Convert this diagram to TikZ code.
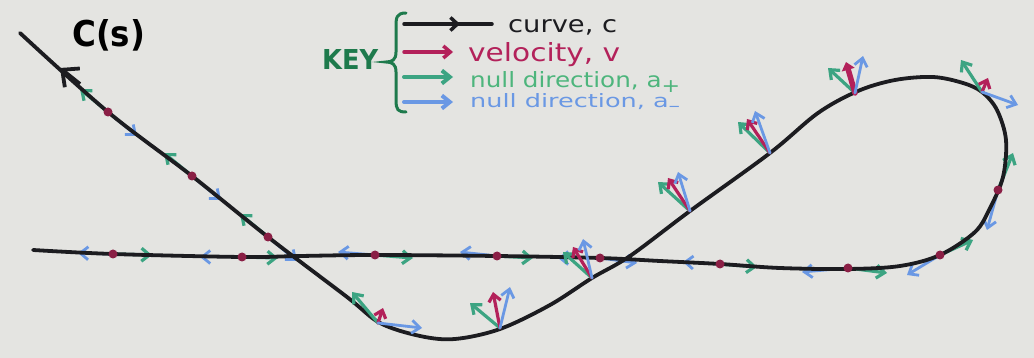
\documentclass[tikz,border=0pt]{standalone}
\usepackage{fontspec}
\setmainfont{DejaVu Sans}
\usetikzlibrary{arrows.meta,calc}
\definecolor{bg}{HTML}{E4E4E1}
\definecolor{ink}{HTML}{1C1C20}
\definecolor{velred}{HTML}{B3215A}
\definecolor{dotred}{HTML}{8A1F45}
\definecolor{plusgreen}{HTML}{3CA482}
\definecolor{plustext}{HTML}{4DB57C}
\definecolor{minusblue}{HTML}{6A98E4}
\definecolor{keygreen}{HTML}{1E7A4C}
\begin{document}
\begin{tikzpicture}[x=1pt,y=-1pt,
  curvestyle/.style={draw=ink,line width=3.8pt,line cap=round,line join=round},
  plusvec/.style={draw=plusgreen,line width=3.2pt,line cap=round,-{Straight Barb[length=8pt,width=13pt]}},
  minusvec/.style={draw=minusblue,line width=2.8pt,line cap=round,-{Straight Barb[length=8pt,width=13pt]}},
  velvec/.style={draw=velred,line width=3.2pt,line cap=round,-{Straight Barb[length=7pt,width=12pt]}},
  velthick/.style={draw=velred,line width=5.5pt,line cap=round,-{Triangle[length=8pt,width=13pt]}},
  reddot/.style={circle,fill=dotred,inner sep=0pt,minimum size=9pt},
  keytext/.style={anchor=base west,inner sep=0pt}
]
\useasboundingbox (0,0) rectangle (1034,358);
\fill[bg] (0,0) rectangle (1034,358);

% ---------- points on the curve ----------
\coordinate (a1) at (108,112);
\coordinate (a2) at (192,176);
\coordinate (a3) at (268,237);
\coordinate (h1) at (113,254);
\coordinate (h2) at (242,257);
\coordinate (h3) at (375,255);
\coordinate (h4) at (497,256);
\coordinate (h5) at (600,258);
\coordinate (h6) at (720,264);
\coordinate (h7) at (848,268);
\coordinate (r1) at (940,255);
\coordinate (r2) at (998,190);
\coordinate (p1) at (378,323);
\coordinate (p2) at (500,328);
\coordinate (p3) at (592,278);
\coordinate (p4) at (690,211);
\coordinate (p5) at (770,153);
\coordinate (p6) at (855,93);
\coordinate (p7) at (982,92);

% ---------- null directions along the lightlike parts ----------
\foreach \p in {a1,a2,a3}{
  \draw[plusvec] (\p) -- ($(\p)+(-28,-23)$);
  \draw[minusvec] (\p) -- ($(\p)+(29,24)$);
}
\draw[minusvec] (h1) -- (78,253);   \draw[plusvec] (h1) -- (152,255);
\draw[minusvec] (h2) -- (200,257);  \draw[plusvec] (h2) -- (278,258);
\draw[minusvec] (h3) -- (338,252);  \draw[plusvec] (h3) -- (413,258);
\draw[minusvec] (h4) -- (460,252);  \draw[plusvec] (h4) -- (533,258);
\draw[minusvec] (h5) -- (558,258);  \draw[minusvec] (h5) -- (637,263);
\draw[minusvec] (h6) -- (683,262);  \draw[plusvec] (h6) -- (757,267);
\draw[minusvec] (h7) -- (802,272);  \draw[plusvec] (h7) -- (887,273);
\draw[minusvec] (r1) -- (907,275);  \draw[plusvec] (r1) -- (973,240);
\draw[minusvec] (r2) -- (987,230);  \draw[plusvec] (r2) -- (1013,153);

% ---------- the curve ----------
\draw[curvestyle] plot[smooth,tension=0.55] coordinates {
  (20,33) (108,112) (192,176) (268,237) (347,297) (380,323) (420,336)
  (455,339) (500,329) (550,305) (592,278) (630,256) (690,211)
  (770,153) (818,113) (858,91) (895,80) (933,77) (963,83)
  (982,92) (997,110) (1006,140) (1003,177) (990,208) (975,232)
  (940,255) (900,266) (848,269) (780,268) (720,264) (660,261)
  (600,258) (497,256) (375,255) (300,256) (242,257) (113,254) (33,250)};
\coordinate (tipbase) at (80,84);
\coordinate (tip) at (60,68);
\draw[draw=ink,line width=3.8pt,-{Straight Barb[length=13pt,width=24pt]}] (tipbase) -- (tip);

% ---------- red dots ----------
\foreach \p in {a1,a2,a3,h1,h2,h3,h4,h5,h6,h7,r1,r2}{
  \node[reddot] (dot\p) at (\p) {};
}

% ---------- cones at timelike points ----------
\draw[plusvec] (p1) -- (352,292); \draw[velvec] (p1) -- (383,308); \draw[minusvec] (p1) -- (422,328);
\draw[plusvec] (p2) -- (470,303); \draw[velvec] (p2) -- (493,292); \draw[minusvec] (p2) -- (510,287);
\draw[plusvec] (p3) -- (563,252); \draw[velvec] (p3) -- (573,247); \draw[minusvec] (p3) -- (583,239);
\draw[plusvec] (p4) -- (658,182); \draw[velvec] (p4) -- (668,178); \draw[minusvec] (p4) -- (678,172);
\draw[plusvec] (p5) -- (738,122); \draw[velvec] (p5) -- (747,119); \draw[minusvec] (p5) -- (755,111);
\draw[plusvec] (p6) -- (828,68);  \draw[velthick] (p6) -- (846,62); \draw[minusvec] (p6) -- (863,56);
\draw[plusvec] (p7) -- (961,60);  \draw[velvec] (p7) -- (988,78); \draw[minusvec] (p7) -- (1018,105);

% ---------- label of the curve ----------
\node[keytext] (clabel) at (72,47) {\resizebox{73pt}{27pt}{\bfseries C(s)}};

% ---------- key ----------
\node[keytext,text=keygreen] (keyword) at (322,70) {\resizebox{56pt}{20pt}{\bfseries KEY}};
\draw[draw=keygreen,line width=3pt,line cap=round]
  (406,13) .. controls (396,13) and (396,18) .. (396,28)
  -- (396,52) .. controls (396,60) and (392,62) .. (386,62)
  .. controls (392,62) and (396,64) .. (396,72)
  -- (396,100) .. controls (396,110) and (398,112) .. (406,112);

\coordinate (k1a) at (404,24); \coordinate (k1m) at (460,24); \coordinate (k1b) at (492,24);
\draw[draw=ink,line width=3.5pt,line cap=round] (k1a) -- (k1b);
\draw[draw=ink,line width=3.5pt,-{Straight Barb[length=7pt,width=13pt]}] (k1a) -- (k1m);
\coordinate (k2a) at (404,52); \coordinate (k2b) at (453,52);
\draw[velvec,line width=3.5pt] (k2a) -- (k2b);
\coordinate (k3a) at (404,77); \coordinate (k3b) at (453,77);
\draw[plusvec,line width=4pt] (k3a) -- (k3b);
\coordinate (k4a) at (404,102); \coordinate (k4b) at (453,102);
\draw[minusvec,line width=4pt] (k4a) -- (k4b);

\node[keytext,text=ink] (t1) at (508,33) {\resizebox{109pt}{13pt}{curve, c}};
\node[keytext,text=velred] (t2) at (468,62) {\resizebox{152pt}{19pt}{velocity, v}};
\node[keytext,text=plustext] (t3) at (470,88) {\resizebox{210pt}{16pt}{null direction, a\raisebox{-0.35ex}{\small +}}};
\node[keytext,text=minusblue] (t4) at (470,108) {\resizebox{210pt}{14pt}{null direction, a\raisebox{-0.35ex}{\small –}}};
\end{tikzpicture}
\end{document}
